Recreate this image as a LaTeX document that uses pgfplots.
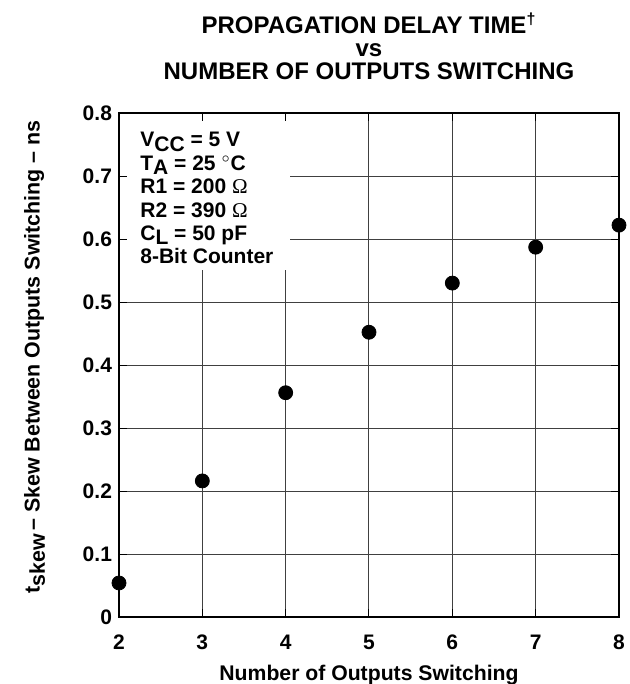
\documentclass[border=0pt]{standalone}
\usepackage{fontspec}
\setmainfont{Liberation Sans}
\newfontfamily\serifom{Liberation Serif}
\usepackage{pgfplots}
\pgfplotsset{compat=1.18}
\begin{document}
\begin{tikzpicture}
\begin{axis}[
  name=ax,
  scale only axis,
  width=250pt, height=252pt,
  xmin=2, xmax=8, ymin=0, ymax=0.8,
  xtick={2,3,4,5,6,7,8},
  ytick={0,0.1,0.2,0.3,0.4,0.5,0.6,0.7,0.8},
  yticklabel style={/pgf/number format/fixed,/pgf/number format/precision=1},
  xticklabel style={yshift=-5.5pt},
  /pgf/number format/assume math mode=true,
  tick label style={font=\fontsize{10.5}{12}\selectfont\bfseries},
  tick align=inside,
  major tick length=4pt,
  tick style={black, line width=0.5pt},
  grid=major,
  major grid style={line width=0.5pt, black!75},
  axis line style={line width=1.1pt, black},
  xlabel={Number of Outputs Switching},
  xlabel style={font=\fontsize{10.6}{12}\selectfont\bfseries, yshift=-0.5pt},
  ylabel={t\raisebox{-0.45ex}{skew}\,-- Skew Between Outputs Switching -- ns},
  ylabel style={font=\fontsize{10.7}{12}\selectfont\bfseries, yshift=12pt, xshift=4pt},
  title={PROPAGATION DELAY TIME\textsuperscript{\dag}\\vs\\NUMBER OF OUTPUTS SWITCHING},
  title style={font=\fontsize{12}{11.5}\selectfont\bfseries, align=center, yshift=7pt},
  clip=false,
]
\fill[white] ([xshift=4pt,yshift=-4pt]axis cs:2,0.8) rectangle (axis cs:4.05,0.551);
\node[anchor=north west, align=left, font=\fontsize{10.5}{11.7}\selectfont\bfseries, inner sep=0pt]
  at ([xshift=10.5pt,yshift=-9.5pt]axis cs:2,0.8)
  {V\raisebox{-0.4ex}{CC} = 5 V\\
   T\raisebox{-0.4ex}{A} = 25 $^{\circ}$C\\
   R1 = 200 {\serifom\mdseries\char"03A9}\\
   R2 = 390 {\serifom\mdseries\char"03A9}\\
   C\raisebox{-0.4ex}{L} = 50 pF\\
   8-Bit Counter};
\addplot[only marks, mark=*, mark size=3.5pt, black] coordinates {
  (2,0.054) (3,0.216) (4,0.356) (5,0.452) (6,0.530) (7,0.587) (8,0.622)
};
\coordinate (o) at (rel axis cs:0,0);
\end{axis}
\pgfresetboundingbox
\path (o) ++(-59.5pt,-33.5pt) rectangle ++(314.5pt,342pt);
\end{tikzpicture}
\end{document}
